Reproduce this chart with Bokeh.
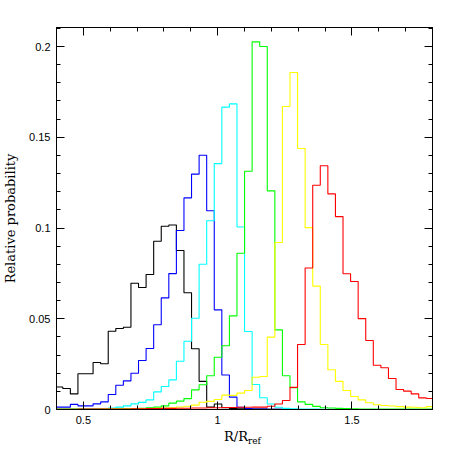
import numpy as np
from bokeh.plotting import figure
from bokeh.models import Range1d, LinearAxis, FixedTicker, CustomJSTickFormatter, Div
from bokeh.layouts import column
from bokeh.embed import file_html
from bokeh.resources import INLINE

# ---- histogram bins (R / R_ref) ----
bin_start = 0.3952
bin_width = 0.0282
n_bins = 50

# ---- relative probability per bin, one list per series ----
black = [0.0124, 0.0116, 0.0086, 0.0197, 0.0197, 0.0259, 0.0252, 0.0431, 0.0446, 0.0453,
         0.0696, 0.0672, 0.0744, 0.0927, 0.1010, 0.1017, 0.0876, 0.0643, 0.0335, 0.0155,
         0.0013, 0.0030, 0.0010, 0.0006, 0.0004, 0.0003, 0.0002, 0.0002, 0.0001, 0.0001,
         0.0001, 0.0, 0.0, 0.0, 0.0, 0.0, 0.0, 0.0, 0.0, 0.0,
         0.0, 0.0, 0.0, 0.0, 0.0, 0.0, 0.0, 0.0, 0.0, 0.0]
blue = [0.0013, 0.0013, 0.0028, 0.0020, 0.0020, 0.0031, 0.0042, 0.0083, 0.0134, 0.0158,
        0.0200, 0.0270, 0.0336, 0.0467, 0.0615, 0.0749, 0.0986, 0.1166, 0.1297, 0.1401,
        0.1095, 0.0549, 0.0190, 0.0068, 0.0012, 0.0005, 0.0003, 0.0002, 0.0001, 0.0001,
        0.0, 0.0, 0.0, 0.0, 0.0, 0.0, 0.0, 0.0, 0.0, 0.0,
        0.0, 0.0, 0.0, 0.0, 0.0, 0.0, 0.0, 0.0, 0.0, 0.0]
cyan = [0.0002, 0.0002, 0.0002, 0.0002, 0.0003, 0.0003, 0.0004, 0.0008, 0.0013, 0.0020,
        0.0031, 0.0039, 0.0053, 0.0097, 0.0127, 0.0163, 0.0266, 0.0376, 0.0503, 0.0800,
        0.1040, 0.1355, 0.1666, 0.1684, 0.1006, 0.0430, 0.0138, 0.0065, 0.0030, 0.0012,
        0.0006, 0.0004, 0.0003, 0.0002, 0.0002, 0.0001, 0.0001, 0.0, 0.0, 0.0,
        0.0, 0.0, 0.0, 0.0, 0.0, 0.0, 0.0, 0.0, 0.0, 0.0]
green = [0.0002, 0.0002, 0.0002, 0.0002, 0.0003, 0.0003, 0.0003, 0.0004, 0.0004, 0.0005,
         0.0005, 0.0007, 0.0009, 0.0013, 0.0020, 0.0035, 0.0046, 0.0060, 0.0108, 0.0136,
         0.0186, 0.0288, 0.0351, 0.0516, 0.0861, 0.1313, 0.2026, 0.2000, 0.1205, 0.0439,
         0.0186, 0.0120, 0.0042, 0.0028, 0.0017, 0.0010, 0.0008, 0.0006, 0.0005, 0.0004,
         0.0003, 0.0003, 0.0003, 0.0003, 0.0003, 0.0003, 0.0003, 0.0003, 0.0003, 0.0003]
yellow = [0.0001, 0.0001, 0.0001, 0.0001, 0.0001, 0.0001, 0.0002, 0.0002, 0.0002, 0.0002,
          0.0003, 0.0004, 0.0005, 0.0006, 0.0008, 0.0010, 0.0014, 0.0018, 0.0024, 0.0040,
          0.0045, 0.0055, 0.0079, 0.0078, 0.0090, 0.0105, 0.0178, 0.0182, 0.0399, 0.0920,
          0.1670, 0.1857, 0.1438, 0.1002, 0.0680, 0.0358, 0.0219, 0.0155, 0.0105, 0.0072,
          0.0053, 0.0037, 0.0026, 0.0022, 0.0019, 0.0016, 0.0013, 0.0012, 0.0010, 0.0016]
red = [0.0001, 0.0001, 0.0001, 0.0002, 0.0002, 0.0002, 0.0002, 0.0003, 0.0003, 0.0003,
       0.0004, 0.0004, 0.0005, 0.0005, 0.0006, 0.0006, 0.0007, 0.0007, 0.0008, 0.0008,
       0.0010, 0.0010, 0.0011, 0.0011, 0.0012, 0.0012, 0.0013, 0.0013, 0.0018, 0.0030,
       0.0050, 0.0122, 0.0358, 0.0780, 0.1236, 0.1343, 0.1188, 0.1063, 0.0748, 0.0705,
       0.0501, 0.0380, 0.0244, 0.0230, 0.0171, 0.0110, 0.0101, 0.0086, 0.0064, 0.0061]

series = [(black, "#000000"), (blue, "#0000ff"), (cyan, "#00ffff"),
          (green, "#00ff00"), (yellow, "#ffff00"), (red, "#ff0000")]

x_major = [0.5, 1.0, 1.5]
x_labels = {0.5: "0.5", 1.0: "1", 1.5: "1.5"}
y_major = [0.0, 0.05, 0.1, 0.15, 0.2]
y_labels = {0.0: "0", 0.05: "0.05", 0.1: "0.1", 0.15: "0.15", 0.2: "0.2"}

x0, x1 = 0.4, 1.8
y0, y1 = 0.0, 0.2105

W, H = 460, 429
ML, MR, MT, MB = 52, 28, 27, 20

p = figure(width=W, height=H, output_backend="svg", toolbar_location=None,
           x_range=Range1d(x0, x1), y_range=Range1d(y0, y1),
           min_border_left=ML, min_border_right=MR,
           min_border_top=MT, min_border_bottom=MB,
           x_axis_location=None, y_axis_location=None, margin=(0, 0, 0, 0))
p.xgrid.grid_line_color = None
p.ygrid.grid_line_color = None
p.outline_line_color = "#000000"
p.outline_line_width = 1
p.background_fill_color = "white"
p.border_fill_color = "white"

edges = bin_start + bin_width * np.arange(n_bins + 1)
for vals, col in series:
    ys = list(vals) + [vals[-1]]
    p.step(edges, ys, mode="after", line_color=col, line_width=1.1)

x_minor = [round(0.4 + 0.1 * i, 2) for i in range(15)]
y_minor = [round(0.01 * i, 2) for i in range(22)]
blank = CustomJSTickFormatter(code="return ''")


def style(ax, labels):
    ax.axis_line_color = "#000000"
    ax.major_tick_in = 8
    ax.major_tick_out = 0
    ax.minor_tick_in = 4
    ax.minor_tick_out = 0
    ax.major_tick_line_color = "#000000"
    ax.minor_tick_line_color = "#000000"
    ax.major_label_text_font = "Liberation Sans"
    ax.major_label_text_font_size = "11px"
    ax.major_label_text_color = "#000000"
    ax.major_label_standoff = 6
    if labels is None:
        ax.formatter = blank
    else:
        ax.major_label_overrides = labels


bottom = LinearAxis(ticker=FixedTicker(ticks=x_major, minor_ticks=x_minor))
style(bottom, x_labels)
p.add_layout(bottom, "below")
top = LinearAxis(ticker=FixedTicker(ticks=x_major, minor_ticks=x_minor))
style(top, None)
p.add_layout(top, "above")

left = LinearAxis(ticker=FixedTicker(ticks=y_major, minor_ticks=y_minor))
style(left, y_labels)
left.axis_label = "Relative probability"
left.axis_label_text_font = "DejaVu Serif"
left.axis_label_text_font_size = "13px"
left.axis_label_text_font_style = "normal"
left.axis_label_text_color = "#000000"
left.axis_label_standoff = 8
p.add_layout(left, "left")
right = LinearAxis(ticker=FixedTicker(ticks=y_major, minor_ticks=y_minor))
style(right, None)
p.add_layout(right, "right")

# x-axis title with subscript
xtitle = Div(text=('<div style="font-family:\'DejaVu Serif\';font-size:13px;'
                   'line-height:15px;color:#000;white-space:nowrap;">'
                   'R/R<sub style="font-size:9px;vertical-align:-3px;line-height:0;">ref</sub></div>'),
             width=80, height=24, margin=(0, 0, 0, 224))

layout = column(p, xtitle, spacing=0, margin=(0, 0, 0, 0))
open("out.html", "w").write(file_html(layout, INLINE))
